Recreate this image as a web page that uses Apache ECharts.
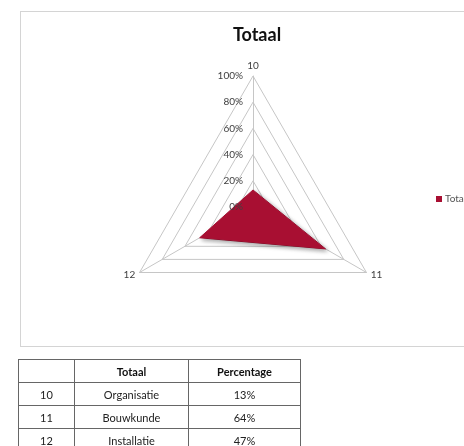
<!DOCTYPE html>
<html>
<head>
<meta charset="utf-8">
<script src="https://cdn.jsdelivr.net/npm/echarts@6/dist/echarts.min.js"></script>
<style>
  html, body { margin: 0; padding: 0; background: #fff; width: 464px; height: 446px; overflow: hidden; }
  #box { position: absolute; left: 20px; top: 11px; width: 470px; height: 334px; border: 1px solid #d4d4d4; }
  #chart { position: absolute; left: 0; top: 0; width: 464px; height: 446px; }
  table { position: absolute; left: 18px; top: 359px; border-collapse: collapse; font-family: Lato, "Liberation Sans", sans-serif; font-size: 11px; color: #222; }
  td, th { border: 1px solid #666; height: 22px; padding: 0; text-align: center; }
  th { font-weight: bold; color: #111; }
</style>
</head>
<body>
<div id="box"></div>
<div id="chart"></div>
<table id="tbl"></table>
<script>
const title = 'Totaal';
const categories = ['10', '11', '12'];
const names = ['Organisatie', 'Bouwkunde', 'Installatie'];
const values = [13, 64, 47];
const tableHeader = ['', 'Totaal', 'Percentage'];
const colWidths = [55, 113, 111];

// table
const tbl = document.getElementById('tbl');
let html = '<tr>' + tableHeader.map((h, i) => '<th style="width:' + colWidths[i] + 'px">' + h + '</th>').join('') + '</tr>';
categories.forEach((c, i) => {
  html += '<tr><td>' + c + '</td><td>' + names[i] + '</td><td>' + values[i] + '%</td></tr>';
});
tbl.innerHTML = html;

// ECharts radar goes counter-clockwise; Excel goes clockwise -> reorder
const order = [0, 2, 1];
const font = 'Lato, "Liberation Sans", sans-serif';
const baseRadar = {
  center: [253, 207], radius: 131, startAngle: 90, splitNumber: 5, shape: 'polygon'
};
const chart = echarts.init(document.getElementById('chart'));
chart.setOption({
  animation: false,
  title: {
    text: title, left: 252, top: 21, textAlign: 'center',
    textStyle: { fontFamily: font, fontSize: 18, fontWeight: 'bold', color: '#111' }
  },
  legend: {
    left: 431, top: 189, itemWidth: 6, itemHeight: 6, itemGap: 4, icon: 'rect',
    textStyle: { fontFamily: font, fontSize: 10, color: '#555', padding: [0, 0, 0, -2] },
    data: [title]
  },
  radar: [
    Object.assign({}, baseRadar, {
      z: 1,
      indicator: order.map(k => ({ name: categories[k], min: 0, max: 100 })),
      axisName: { color: '#404040', fontSize: 10, fontFamily: font },
      nameGap: 5,
      splitLine: { lineStyle: { color: '#c6c6c6', width: 1 } },
      splitArea: { show: false },
      axisLine: { lineStyle: { color: '#c6c6c6', width: 1 } },
      axisTick: { show: false },
      axisLabel: { show: false }
    }),
    Object.assign({}, baseRadar, {
      z: 10,
      indicator: order.map((k, i) => {
        const o = { name: '', min: 0, max: 100 };
        if (i === 0) o.axisLabel = { show: true, showMinLabel: true };
        return o;
      }),
      axisName: { show: false },
      splitLine: { show: false },
      splitArea: { show: false },
      axisLine: { show: false },
      axisTick: { show: false },
      axisLabel: {
        show: false, color: '#404040', fontSize: 10, fontFamily: font, margin: 10,
        formatter: v => v + '%'
      }
    })
  ],
  series: [{
    type: 'radar', name: title, symbol: 'none', radarIndex: 0, z: 2,
    itemStyle: { color: '#A80F32' },
    lineStyle: { color: '#A80F32', width: 1, shadowBlur: 4, shadowColor: 'rgba(0,0,0,0.35)', shadowOffsetX: 2, shadowOffsetY: 2 },
    areaStyle: { color: '#A80F32', opacity: 1, shadowBlur: 4, shadowColor: 'rgba(0,0,0,0.35)', shadowOffsetX: 2, shadowOffsetY: 2 },
    data: [{ value: order.map(k => values[k]), name: title }]
  }]
});
</script>
</body>
</html>
